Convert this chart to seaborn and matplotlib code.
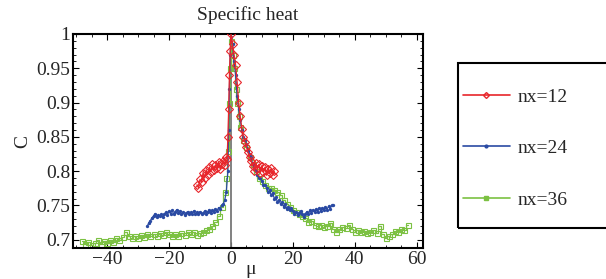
import numpy as np
import pandas as pd
import matplotlib
matplotlib.use("Agg")
import matplotlib.pyplot as plt
import matplotlib.patches as mpatches
from matplotlib.lines import Line2D
from matplotlib.ticker import MultipleLocator
import seaborn as sns

# --- data ---
mu_12 = [-11, -10.5, -10, -9.5, -9, -8.5, -8, -7.5, -7, -6.5, -6, -5.5, -5, -4.5, -4,
         -3.5, -3, -2.5, -2, -1.5, -1.25, -1, -0.75, -0.5, -0.25, 0,
         0.5, 1, 1.5, 2, 2.5, 3, 3.5, 4, 4.5, 5, 5.5, 6, 6.5, 7, 7.5, 8, 8.5, 9,
         9.5, 10, 10.5, 11, 11.5, 12, 12.5, 13, 13.5, 14]
c_12 = [0.780, 0.776, 0.788, 0.784, 0.798, 0.790, 0.802, 0.795, 0.806, 0.799, 0.810, 0.801, 0.809, 0.804, 0.814,
        0.803, 0.811, 0.815, 0.809, 0.820, 0.818, 0.850, 0.890, 0.940, 0.975, 1.000,
        0.985, 0.970, 0.955, 0.930, 0.900, 0.880, 0.862, 0.850, 0.843, 0.835, 0.828, 0.820, 0.815, 0.808,
        0.800, 0.812, 0.803, 0.810, 0.798, 0.808, 0.799, 0.806, 0.794, 0.803, 0.797, 0.804, 0.795, 0.800]

mu_24 = [-27, -26.5, -26, -25.5, -25, -24.5, -24, -23.5, -23, -22.5, -22, -21.5, -21, -20.5, -20,
         -19.5, -19, -18.5, -18, -17.5, -17, -16.5, -16, -15.5, -15, -14.5, -14, -13.5, -13, -12.5,
         -12, -11.5, -11, -10.5, -10, -9.5, -9, -8.5, -8, -7.5, -7, -6.5, -6, -5.5, -5, -4.5, -4,
         -3.5, -3, -2.5, -2, -1.5, -1, -0.75, -0.5, -0.25, 0,
         0.5, 1, 1.5, 2, 2.5, 3, 3.5, 4, 4.5, 5, 5.5, 6, 6.5, 7, 7.5, 8, 8.5, 9, 9.5, 10, 10.5,
         11, 11.5, 12, 12.5, 13, 13.5, 14, 14.5, 15, 15.5, 16, 16.5, 17, 17.5, 18, 18.5, 19, 19.5,
         20, 20.5, 21, 21.5, 22, 22.5, 23, 23.5, 24, 24.5, 25, 25.5, 26, 26.5, 27, 27.5, 28, 28.5,
         29, 29.5, 30, 30.5, 31, 31.5, 32, 32.5, 33]
c_24 = [0.720, 0.725, 0.728, 0.732, 0.735, 0.738, 0.733, 0.736, 0.734, 0.737, 0.733, 0.738, 0.740, 0.736, 0.742,
        0.738, 0.743, 0.737, 0.741, 0.744, 0.739, 0.742, 0.737, 0.740, 0.736, 0.739, 0.741, 0.737, 0.740, 0.738,
        0.742, 0.737, 0.740, 0.738, 0.741, 0.737, 0.739, 0.742, 0.738, 0.741, 0.744, 0.739, 0.743, 0.740, 0.745, 0.742, 0.747,
        0.745, 0.750, 0.752, 0.758, 0.770, 0.800, 0.860, 0.920, 0.970, 0.995,
        0.985, 0.960, 0.940, 0.910, 0.890, 0.875, 0.860, 0.850, 0.845, 0.840, 0.830, 0.825, 0.820, 0.810, 0.805, 0.800, 0.795, 0.790, 0.790, 0.785, 0.780,
        0.780, 0.775, 0.770, 0.772, 0.765, 0.768, 0.760, 0.762, 0.755, 0.758, 0.752, 0.755, 0.748, 0.752, 0.745, 0.748, 0.744, 0.747,
        0.742, 0.738, 0.741, 0.736, 0.739, 0.742, 0.737, 0.733, 0.738, 0.741, 0.737, 0.743, 0.739, 0.744, 0.740, 0.745, 0.741, 0.746,
        0.742, 0.747, 0.743, 0.748, 0.744, 0.749, 0.745, 0.750, 0.751]

mu_36 = [-48, -47, -46, -45, -44, -43, -42, -41, -40, -39, -38, -37, -36, -35, -34, -33, -32, -31, -30,
         -29, -28, -27, -26, -25, -24, -23, -22, -21, -20, -19, -18, -17, -16, -15, -14, -13, -12, -11,
         -10, -9, -8, -7, -6, -5, -4, -3, -2, -1.5, -1, -0.5, -0.25, 0,
         0.5, 1, 1.5, 2, 2.5, 3, 4, 5, 6, 7, 8, 9, 10, 11, 12, 13, 14, 15, 16, 17, 18, 19, 20,
         21, 22, 23, 24, 25, 26, 27, 28, 29, 30, 31, 32, 33, 34, 35, 36, 37, 38, 39, 40, 41, 42,
         43, 44, 45, 46, 47, 48, 49, 50, 51, 52, 53, 54, 55, 56, 57]
c_36 = [0.698, 0.694, 0.697, 0.692, 0.696, 0.700, 0.694, 0.698, 0.695, 0.700, 0.697, 0.702, 0.700, 0.704, 0.712, 0.706, 0.702, 0.706, 0.703,
        0.707, 0.704, 0.708, 0.705, 0.709, 0.706, 0.710, 0.707, 0.711, 0.708, 0.705, 0.709, 0.706, 0.710, 0.707, 0.712, 0.708, 0.711, 0.707,
        0.710, 0.712, 0.714, 0.716, 0.720, 0.726, 0.735, 0.748, 0.770, 0.790, 0.830, 0.900, 0.950, 0.990,
        0.970, 0.950, 0.920, 0.900, 0.880, 0.865, 0.845, 0.835, 0.820, 0.810, 0.800, 0.790, 0.785, 0.780, 0.775, 0.775, 0.772, 0.770, 0.766, 0.758, 0.752, 0.748, 0.744,
        0.741, 0.738, 0.735, 0.732, 0.726, 0.728, 0.722, 0.720, 0.722, 0.718, 0.720, 0.724, 0.716, 0.712, 0.716, 0.719, 0.717, 0.721, 0.716, 0.712, 0.714, 0.711,
        0.713, 0.710, 0.712, 0.714, 0.710, 0.720, 0.708, 0.703, 0.705, 0.709, 0.713, 0.711, 0.716, 0.714, 0.722]

labels = ["nx=12", "nx=24", "nx=36"]
colors = ["#e8262b", "#2a4aa3", "#7cc142"]

sns.set_theme(style="ticks")
plt.rcParams["font.family"] = ["Liberation Serif", "DejaVu Serif"]

fig = plt.figure(figsize=(6.06, 2.79), dpi=100)
ax = fig.add_axes([73 / 606, 31 / 279, 350 / 606, 214 / 279])

ax.axvline(0, color="#777777", lw=1.3, zorder=1)

df12 = pd.DataFrame({"mu": mu_12, "C": c_12})
df24 = pd.DataFrame({"mu": mu_24, "C": c_24})
df36 = pd.DataFrame({"mu": mu_36, "C": c_36})

sns.lineplot(data=df36, x="mu", y="C", ax=ax, sort=False, estimator=None, color=colors[2],
             lw=0.9, marker="s", markersize=3.6, markerfacecolor="none",
             markeredgecolor=colors[2], markeredgewidth=0.8, drawstyle="steps-mid", zorder=2)
sns.lineplot(data=df24, x="mu", y="C", ax=ax, sort=False, estimator=None, color=colors[1],
             lw=0.9, marker="o", markersize=2.4, markeredgewidth=0, zorder=3)
sns.lineplot(data=df12, x="mu", y="C", ax=ax, sort=False, estimator=None, color=colors[0],
             lw=0.9, marker="D", markersize=4.0, markerfacecolor="none",
             markeredgecolor=colors[0], markeredgewidth=0.8, zorder=4)

ax.set_xlim(-51, 62)
ax.set_ylim(0.688, 1.0)
ax.xaxis.set_major_locator(MultipleLocator(20))
ax.xaxis.set_minor_locator(MultipleLocator(5))
ax.yaxis.set_minor_locator(MultipleLocator(0.01))
ax.set_yticks([0.7, 0.75, 0.8, 0.85, 0.9, 0.95, 1.0])
ax.set_yticklabels(["0.7", "0.75", "0.8", "0.85", "0.9", "0.95", "1"])
ax.tick_params(which="both", direction="in", top=True, right=True, labelsize=14, color="black")
ax.tick_params(which="major", length=4, width=0.8, pad=2)
ax.tick_params(which="minor", length=2, width=0.6)
for s in ax.spines.values():
    s.set_linewidth(1.5)
    s.set_color("black")

ax.set_title("Specific heat", fontsize=14, pad=10)
ax.set_xlabel("")
ax.set_ylabel("C", fontsize=14, labelpad=4)
fig.text(251 / 606, 1 - 270 / 279, "μ", fontsize=14, ha="center", va="center")

handles = [
    Line2D([], [], color=colors[0], lw=1.2, marker="D", markersize=3, markerfacecolor="none", markeredgecolor=colors[0]),
    Line2D([], [], color=colors[1], lw=1.2, marker="o", markersize=2),
    Line2D([], [], color=colors[2], lw=1.2, marker="s", markersize=2.5, markerfacecolor=colors[2]),
]
fig.legend(handles, labels, loc="upper left", bbox_to_anchor=(463 / 606, 1 - 88 / 279),
           frameon=False, fontsize=14, handlelength=2.4, handletextpad=0.4,
           labelspacing=1.75, borderpad=0, borderaxespad=0)
fig.patches.append(mpatches.Rectangle((458 / 606, 1 - 228 / 279), 200 / 606, 165 / 279,
                                      transform=fig.transFigure, fill=False, lw=1.5,
                                      edgecolor="black", clip_on=False))

fig.savefig("out.png", dpi=100)
